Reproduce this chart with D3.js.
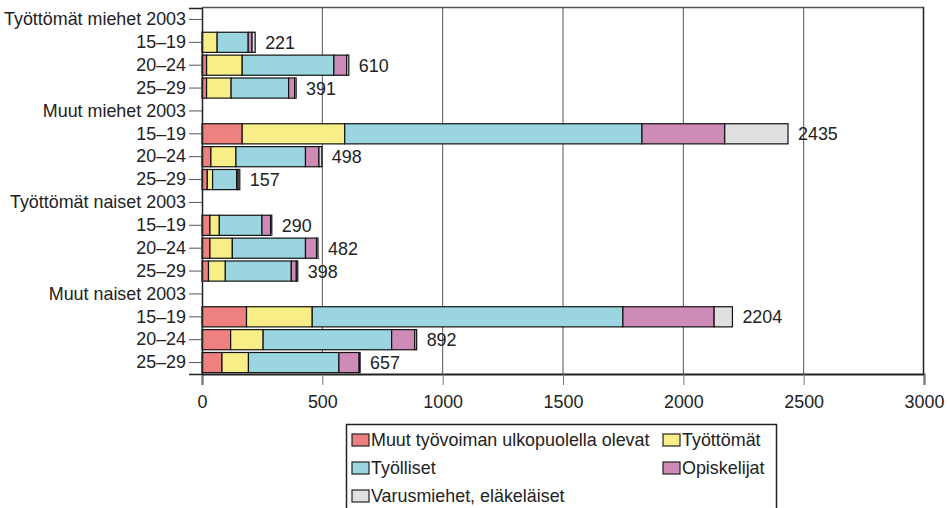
<!DOCTYPE html>
<html><head><meta charset="utf-8">
<script src="https://cdn.jsdelivr.net/npm/d3@7"></script>
<style>body{margin:0;background:#fff}svg{display:block}text{font-family:"Liberation Sans",Arial,sans-serif;fill:#222}</style>
</head><body><svg id="c" width="950" height="508"></svg>
<script>
const rowLabels = ["Työttömät miehet 2003","15–19","20–24","25–29","Muut miehet 2003","15–19","20–24","25–29","Työttömät naiset 2003","15–19","20–24","25–29","Muut naiset 2003","15–19","20–24","25–29"];
const seriesNames = ["Muut työvoiman ulkopuolella olevat","Työttömät","Työlliset","Opiskelijat","Varusmiehet, eläkeläiset"];
const seriesColors = ["#ef8080","#f8ee88","#9ad5e0","#cf8bb8","#e0e0e0"];
const muut_ulkop = [null,2,19,19,null,167,37,22,null,33,33,27,null,185,119,83];
const tyottomat  = [null,61,148,102,null,426,104,22,null,39,93,70,null,273,135,110];
const tyolliset  = [null,129,381,239,null,1235,289,100,null,177,304,274,null,1291,534,376];
const opiskelijat= [null,16,53,25,null,344,56,6,null,36,46,21,null,379,96,84];
const varus      = [null,13,9,6,null,263,12,7,null,5,6,6,null,76,8,4];
const totals     = [null,221,610,391,null,2435,498,157,null,290,482,398,null,2204,892,657];
const xTicks = [0,500,1000,1500,2000,2500,3000];

const svg = d3.select("#c");
const FS = 17.9;
const x = d3.scaleLinear().domain([0,3000]).range([202,924]);
const y = d3.scaleBand().domain(d3.range(rowLabels.length)).range([8,374]).paddingInner(0.12).paddingOuter(0.06);

// grid
svg.append("g").selectAll("line").data(xTicks.slice(1,-1)).join("line")
  .attr("x1",d=>x(d)).attr("x2",d=>x(d)).attr("y1",8).attr("y2",374)
  .attr("stroke","#555").attr("stroke-width",1);

// bars
const series = [muut_ulkop,tyottomat,tyolliset,opiskelijat,varus];
const rows = d3.range(rowLabels.length).filter(i=>totals[i]!==null);
const segs = [];
rows.forEach(i=>{
  let acc=0;
  series.forEach((s,k)=>{ segs.push({i,k,x0:acc,x1:acc+s[i]}); acc+=s[i]; });
});
svg.append("g").selectAll("rect").data(segs).join("rect")
  .attr("x",d=>x(d.x0)).attr("width",d=>Math.max(0,x(d.x1)-x(d.x0)))
  .attr("y",d=>y(d.i)).attr("height",y.bandwidth())
  .attr("fill",d=>seriesColors[d.k]).attr("stroke","#111").attr("stroke-width",1.2);

// value labels
svg.append("g").selectAll("text").data(rows).join("text")
  .attr("x",i=>x(totals[i])+10).attr("y",i=>y(i)+y.bandwidth()/2)
  .attr("dy","0.36em").attr("font-size",FS).text(i=>totals[i]);

// frame
svg.append("line").attr("x1",202).attr("x2",924).attr("y1",7.5).attr("y2",7.5).attr("stroke","#555").attr("stroke-width",1.5);
svg.append("line").attr("x1",923.5).attr("x2",923.5).attr("y1",7).attr("y2",374).attr("stroke","#222").attr("stroke-width",1.5);

// x axis
const xa = svg.append("g").attr("transform","translate(0,374)")
  .call(d3.axisBottom(x).tickValues(xTicks).tickSize(11).tickPadding(10).tickFormat(d3.format("d")));
xa.select(".domain").attr("stroke","#222").attr("stroke-width",1.8);
xa.selectAll(".tick line").attr("stroke","#777");
xa.selectAll("text").attr("font-size",FS).attr("font-family","Liberation Sans, Arial, sans-serif").attr("fill","#222");

// y axis
const ya = svg.append("g").attr("transform","translate(202,0)")
  .call(d3.axisLeft(y).tickSize(13).tickPadding(3).tickFormat(i=>rowLabels[i]));
ya.select(".domain").attr("stroke","#222").attr("stroke-width",1.5);
ya.selectAll(".tick line").attr("stroke","#555");
ya.selectAll("text").attr("font-size",FS).attr("font-family","Liberation Sans, Arial, sans-serif").attr("fill","#222");

// legend
const lg = svg.append("g");
lg.append("rect").attr("x",346.5).attr("y",424.5).attr("width",430).attr("height",95)
  .attr("fill","#fff").attr("stroke","#222").attr("stroke-width",1.5);
const legPos = [[352,440],[663,440],[352,468],[663,468],[352,496]];
seriesNames.forEach((n,k)=>{
  const [lx,ly]=legPos[k];
  lg.append("rect").attr("x",lx).attr("y",ly-6).attr("width",17).attr("height",12)
    .attr("fill",seriesColors[k]).attr("stroke","#222").attr("stroke-width",1.2);
  lg.append("text").attr("x",lx+19).attr("y",ly).attr("dy","0.36em").attr("font-size",FS).text(n);
});
</script></body></html>
